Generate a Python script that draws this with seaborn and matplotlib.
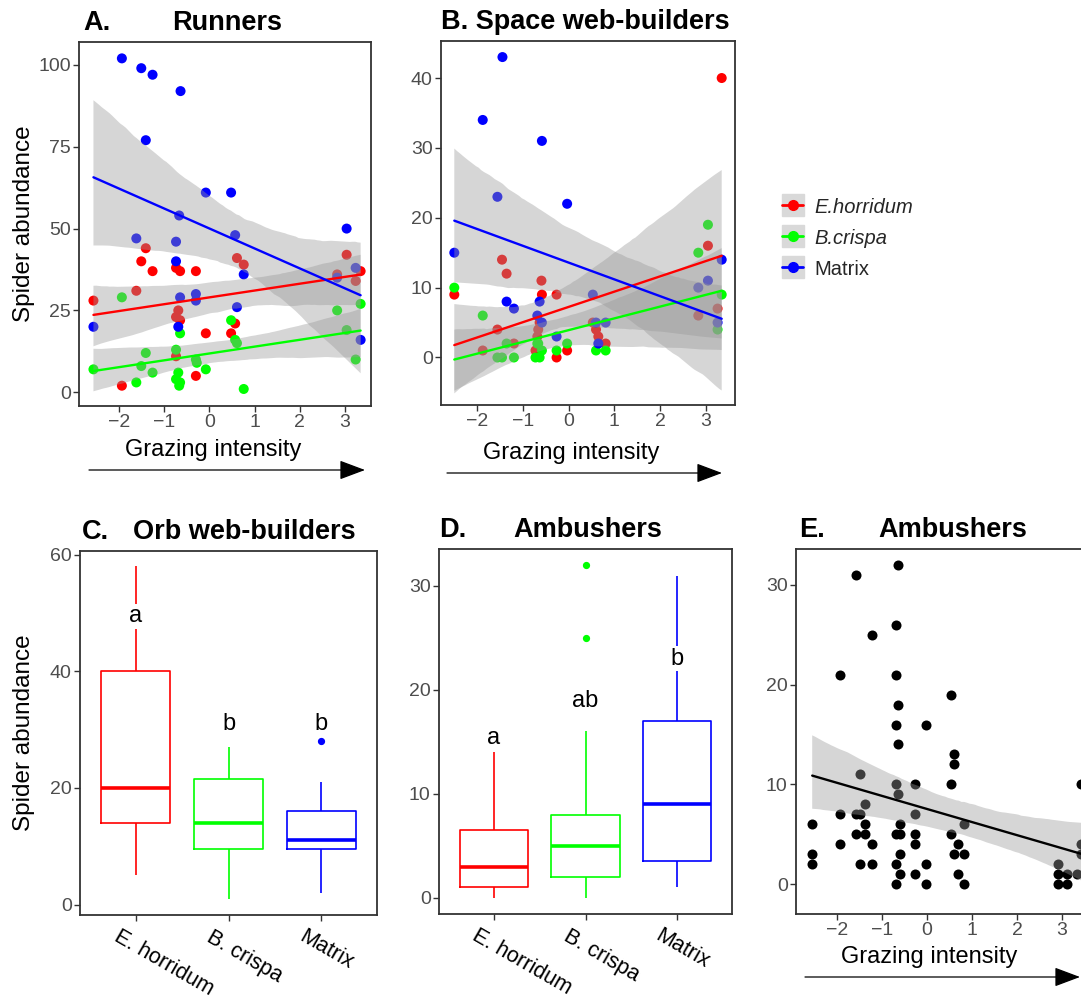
import numpy as np
import pandas as pd
import matplotlib
matplotlib.use("Agg")
import matplotlib.pyplot as plt
import seaborn as sns
from matplotlib.patches import FancyArrowPatch
from matplotlib.lines import Line2D
from matplotlib.legend_handler import HandlerTuple
from matplotlib.transforms import ScaledTranslation

sns.set_theme(style="white")
plt.rcParams['font.family'] = ['Liberation Sans', 'DejaVu Sans']

# ---------------- data ----------------
habitats = ['E.horridum', 'B.crispa', 'Matrix']
colors = ['#FF0000', '#00FF00', '#0000FF']
box_labels = ['E. horridum', 'B. crispa', 'Matrix']

# Panel A - Runners
A_x_eh = [-2.57, -1.94, -1.62, -1.51, -1.41, -1.26, -0.74, -0.65, -0.30, -0.69, -0.74, -0.65,
          -0.08, -0.30, -0.74, 0.57, 0.48, 0.61, 0.76, 2.83, 3.04, 3.24, 3.35]
A_y_eh = [28, 2, 31, 40, 44, 37, 38, 37, 37, 25, 23, 22, 18, 5, 11, 21, 18, 41, 39, 36, 42, 34, 37]
A_x_bc = [-2.57, -1.94, -1.62, -1.51, -1.41, -1.26, -0.74, -0.74, -0.69, -0.65, -0.67, -0.65,
          -0.30, -0.28, -0.08, 0.48, 0.57, 0.61, 0.76, 2.83, 3.04, 3.24, 3.35]
A_y_bc = [7, 29, 3, 8, 12, 6, 13, 4, 6, 3, 2, 18, 10, 9, 7, 22, 16, 15, 1, 25, 19, 10, 27]
A_x_mx = [-1.94, -1.51, -1.26, -0.64, -1.41, -0.08, 0.48, -0.67, 0.57, -1.62, -0.74, -0.74,
          0.76, 3.04, 3.24, 2.83, -0.65, -0.30, -0.30, 0.61, -2.57, -0.69, 3.35]
A_y_mx = [102, 99, 97, 92, 77, 61, 61, 54, 48, 47, 46, 40, 36, 50, 38, 35, 29, 30, 28, 26, 20, 20, 16]

# Panel B - Space web-builders
B_x_eh = [3.34, 3.04, 2.83, 3.25, -2.49, -1.45, -1.35, -1.55, -1.87, -1.19, -0.59, -0.58,
          -0.26, -0.63, -0.66, -0.68, -0.72, -0.26, -0.03, 0.53, 0.60, 0.65, 0.81]
B_y_eh = [40, 16, 6, 7, 9, 14, 12, 4, 1, 2, 11, 9, 9, 5, 4, 3, 1, 0, 1, 5, 4, 3, 2]
B_x_bc = [-2.49, -1.87, -1.55, -1.45, -1.35, -1.19, -0.68, -0.72, -0.63, -0.58, -0.26, -0.03,
          0.60, 0.81, 2.83, 3.04, 3.25, 3.34, -0.66]
B_y_bc = [10, 6, 0, 0, 2, 0, 2, 0, 0, 1, 1, 2, 1, 1, 15, 19, 4, 9, 2]
B_x_mx = [-1.44, -1.87, -0.58, -1.55, -0.03, -2.49, -1.35, -1.19, -0.63, -0.68, -0.58, -0.26,
          0.53, 0.60, 0.81, 0.65, 2.83, 3.04, 3.25, 3.34]
B_y_mx = [43, 34, 31, 23, 22, 15, 8, 7, 8, 6, 5, 3, 9, 5, 5, 2, 10, 11, 5, 14]

# Panel C - Orb web-builders (values reproducing the box statistics)
C_eh = [5, 14, 20, 40, 58]
C_bc = [1, 9.5, 14, 21.5, 27]
C_mx = [2, 9.5, 9.5, 11, 11, 16, 16, 21, 28]
C_letters = ['a', 'b', 'b']
C_letter_y = [49.4, 31, 31]

# Panel D - Ambushers by habitat
D_eh = [0, 1, 3, 6.5, 14]
D_bc = [0, 2, 2, 2, 5, 5, 5, 8, 8, 8, 16, 25, 32]
D_mx = [1, 3.5, 9, 17, 31]
D_letters = ['a', 'ab', 'b']
D_letter_y = [15.4, 18.9, 23.0]

# Panel E - Ambushers vs grazing
E_x = [-2.55, -2.55, -2.55, -1.93, -1.93, -1.93, -1.58, -1.58, -1.58, -1.49, -1.49, -1.49,
       -1.38, -1.38, -1.38, -1.22, -1.22, -1.22,
       -0.69, -0.69, -0.69, -0.69, -0.69, -0.69, -0.69,
       -0.64, -0.64, -0.64, -0.64, -0.59, -0.59, -0.59, -0.59,
       -0.26, -0.26, -0.26, -0.26, -0.26, -0.03, -0.03, -0.03,
       0.54, 0.54, 0.54, 0.61, 0.61, 0.61, 0.68, 0.68, 0.82, 0.82, 0.82,
       2.90, 2.90, 2.90, 3.11, 3.11, 3.33, 3.42, 3.42, 3.42]
E_y = [6, 3, 2, 21, 7, 4, 31, 7, 5, 11, 7, 2,
       8, 6, 5, 25, 4, 2,
       26, 21, 16, 10, 5, 2, 0,
       32, 18, 14, 9, 6, 5, 3, 1,
       10, 7, 5, 4, 1, 16, 2, 0,
       19, 10, 5, 13, 12, 3, 4, 1, 6, 3, 0,
       2, 1, 0, 1, 0, 1, 10, 4, 3]

# ---------------- figure ----------------
W, H = 1081, 998
fig = plt.figure(figsize=(W / 100, H / 100), dpi=100)


def add_ax(x0, y0, x1, y1):
    return fig.add_axes([x0 / W, 1 - y1 / H, (x1 - x0) / W, (y1 - y0) / H])


axA = add_ax(79, 42, 371, 406)
axB = add_ax(441, 41, 735, 405)
axC = add_ax(80, 551, 377, 915)
axD = add_ax(439, 549, 732, 914)
axE = add_ax(796, 549, 1090, 914)

pal = dict(zip(habitats, colors))
TICK_FS = 14
LAB_FS = 17
TITLE_FS = 19.5


def style(ax):
    for s in ax.spines.values():
        s.set_visible(True)
        s.set_color('#333333')
        s.set_linewidth(1.3)
    ax.tick_params(bottom=True, left=True, direction='out', length=4, width=1,
                   color='#333333', labelcolor='#4D4D4D', labelsize=TICK_FS, pad=2)
    ax.grid(False)


def style_band(ax, line_color):
    band = ax.collections[-1]
    band.set_facecolor('#999999')
    band.set_alpha(0.4)
    band.set_edgecolor('none')
    ln = ax.lines[-1]
    ln.set_color(line_color)
    ln.set_linewidth(1.7)


def scatter_panel(ax, xs, ys):
    frames = []
    for h, x, y in zip(habitats, xs, ys):
        frames.append(pd.DataFrame({'x': x, 'y': y, 'habitat': h}))
    df = pd.concat(frames, ignore_index=True)
    sns.scatterplot(data=df, x='x', y='y', hue='habitat', palette=pal, hue_order=habitats,
                    s=52, linewidth=0, legend=False, ax=ax, zorder=1)
    for h, c in zip(habitats, colors):
        sub = df[df.habitat == h]
        sns.regplot(data=sub, x='x', y='y', scatter=False, ax=ax, color=c, seed=0,
                    line_kws={'lw': 1.7})
        style_band(ax, c)


scatter_panel(axA, [A_x_eh, A_x_bc, A_x_mx], [A_y_eh, A_y_bc, A_y_mx])
scatter_panel(axB, [B_x_eh, B_x_bc, B_x_mx], [B_y_eh, B_y_bc, B_y_mx])

dfE = pd.DataFrame({'x': E_x, 'y': E_y})
sns.scatterplot(data=dfE, x='x', y='y', color='black', s=52, linewidth=0, ax=axE, zorder=1)
sns.regplot(data=dfE, x='x', y='y', scatter=False, ax=axE, color='black', seed=0)
style_band(axE, 'black')

# axes limits / ticks for scatter panels
axA.set_xlim(-2.89, 3.58); axA.set_ylim(-4.2, 107.0); axA.set_yticks([0, 25, 50, 75, 100])
axB.set_xlim(-2.78, 3.63); axB.set_ylim(-6.8, 45.3); axB.set_yticks([0, 10, 20, 30, 40])
axE.set_xlim(-2.91, 3.62); axE.set_ylim(-3.0, 33.6); axE.set_yticks([0, 10, 20, 30])
for ax, ly, lx in [(axA, -0.121, 0.46), (axB, -0.132, 0.442), (axE, -0.118, 0.452)]:
    ax.set_xticks([-2, -1, 0, 1, 2, 3])
    ax.set_xlabel('Grazing intensity', fontsize=LAB_FS, color='black')
    ax.xaxis.label.set_va('center')
    ax.xaxis.set_label_coords(lx, ly)
    ax.set_ylabel('')
    style(ax)


# boxplots
def box_panel(ax, groups, letters, letter_y):
    frames = [pd.DataFrame({'group': lab, 'val': g}) for lab, g in zip(box_labels, groups)]
    df = pd.concat(frames, ignore_index=True)
    sns.boxplot(data=df, x='group', y='val', hue='group', order=box_labels, hue_order=box_labels,
                palette=dict(zip(box_labels, colors)), fill=False, width=0.75, linewidth=1.2,
                saturation=1, showcaps=False, fliersize=4.2, legend=False, ax=ax,
                medianprops={'linewidth': 2.6})
    for ln in ax.lines:
        if ln.get_marker() not in (None, '', 'None'):
            ln.set_markerfacecolor(ln.get_markeredgecolor())
            ln.set_marker('o')
    for i, (t, y) in enumerate(zip(letters, letter_y)):
        ax.text(i, y, t, ha='center', va='center', fontsize=17, color='black', zorder=5,
                bbox=dict(facecolor='white', edgecolor='none', pad=1.0))
    ax.set_xlim(-0.6, 2.6)
    ax.set_xlabel('')
    ax.set_ylabel('')
    style(ax)
    ax.set_xticks(range(3))
    ax.set_xticklabels(box_labels)
    off = ScaledTranslation(-15 / 100, -3 / 100, fig.dpi_scale_trans)
    for lab in ax.get_xticklabels():
        lab.set_rotation(-30)
        lab.set_ha('left')
        lab.set_va('top')
        lab.set_rotation_mode('anchor')
        lab.set_fontsize(15.5)
        lab.set_color('black')
        lab.set_transform(lab.get_transform() + off)


box_panel(axC, [C_eh, C_bc, C_mx], C_letters, C_letter_y)
axC.set_ylim(-1.8, 60.6); axC.set_yticks([0, 20, 40, 60])
box_panel(axD, [D_eh, D_bc, D_mx], D_letters, D_letter_y)
axD.set_ylim(-1.57, 33.56); axD.set_yticks([0, 10, 20, 30])

# y labels
for ax in (axA, axC):
    ax.set_ylabel('Spider abundance', fontsize=LAB_FS + 0.5, color='black')
    ax.yaxis.label.set_va('center')
    ax.yaxis.set_label_coords(-0.19, 0.5)


# titles
def title(ax, letter, name, dx_name, dx_letter=2):
    ax.annotate(letter, xy=(0, 1), xycoords='axes fraction', xytext=(dx_letter, 12),
                textcoords='offset pixels', ha='left', va='baseline', fontsize=TITLE_FS,
                fontweight='bold', color='black')
    if name:
        ax.annotate(name, xy=(0, 1), xycoords='axes fraction', xytext=(dx_name, 12),
                    textcoords='offset pixels', ha='left', va='baseline', fontsize=TITLE_FS,
                    fontweight='bold', color='black')


title(axA, 'A.', 'Runners', 93, 4)
title(axB, 'B. Space web-builders', None, 0, 0)
title(axC, 'C.', 'Orb web-builders', 53, 2)
title(axD, 'D.', 'Ambushers', 74, 0)
title(axE, 'E.', 'Ambushers', 82, 3)


# arrows
def arrow(x0, x1, y):
    fig.add_artist(FancyArrowPatch((x0 / W, 1 - y / H), (x1 / W, 1 - y / H),
                                   transform=fig.transFigure,
                                   arrowstyle='-|>,head_length=0.8,head_width=0.3',
                                   mutation_scale=20, color='black', lw=0.9,
                                   shrinkA=0, shrinkB=0))


arrow(89, 365, 470)
arrow(447, 722, 473)
arrow(805, 1080, 977)

# legend
handles = [(Line2D([], [], lw=0, marker='s', markersize=15.5, color='#D9D9D9'),
            Line2D([], [], color=c, lw=2, marker='o', markersize=7)) for c in colors]
leg = fig.legend(handles, habitats, handler_map={tuple: HandlerTuple(ndivide=1, pad=0)},
                 loc='center left', bbox_to_anchor=(782 / W, 1 - 238 / H), frameon=False,
                 fontsize=14.5, handlelength=1.05, handleheight=1.05, labelspacing=0.55,
                 handletextpad=0.55, borderaxespad=0, borderpad=0, numpoints=1)
for t in leg.get_texts()[:2]:
    t.set_style('italic')

fig.savefig('out.png', dpi=100)
